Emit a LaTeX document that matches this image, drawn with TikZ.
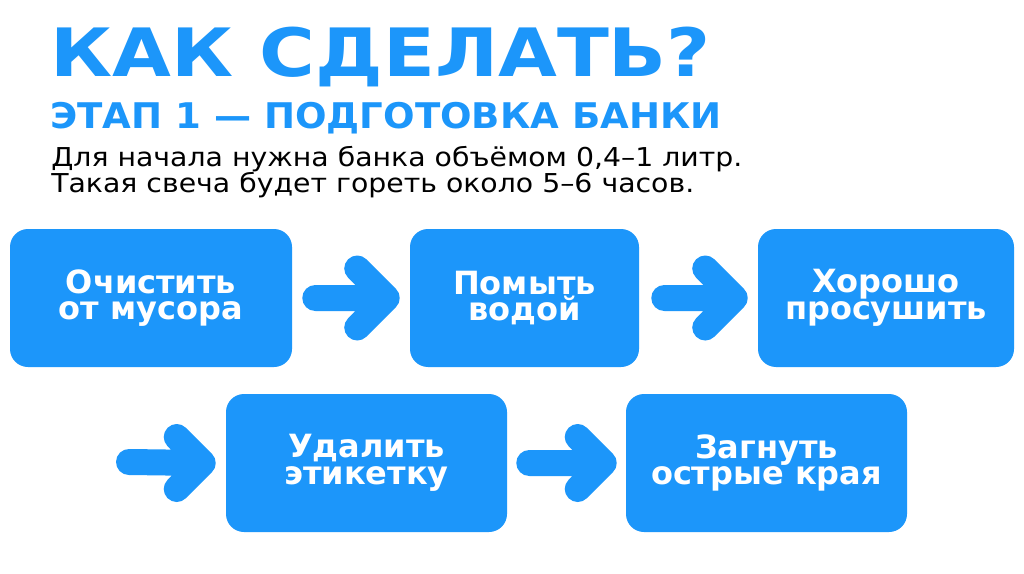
\documentclass[tikz,border=0pt]{standalone}
\usepackage{fontspec}
\usetikzlibrary{calc}
\newfontfamily\headfont[FakeStretch=1.14]{DejaVu Sans}
\newfontfamily\subfont[FakeStretch=1.05]{DejaVu Sans}
\newfontfamily\boxfont{DejaVu Sans}
\newfontfamily\bodyfont[FakeStretch=1.09]{DejaVu Sans}
\definecolor{skyblue}{RGB}{28,150,250}
\newcommand\fatarrow[3]{%
  \draw[arr] ($(#1)+(13,0)$) -- ($(#2)+(-13,0)$)
    ($(#2)+({-13-#3},{-#3})$) -- ($(#2)+(-13,0)$) -- ($(#2)+({-13-#3},{#3})$);
}
\begin{document}
\begin{tikzpicture}[x=0.75pt,y=-0.75pt,
  box/.style={fill=skyblue, rounded corners=13.5pt, minimum height=103.5pt,
    text=white, align=center, inner sep=0pt,
    font=\boxfont\bfseries\fontsize{24pt}{20pt}\selectfont},
  arr/.style={draw=skyblue, line width=19.5pt, line cap=round, line join=round},
  heading/.style={anchor=base west, inner sep=0pt, text=skyblue}]
\useasboundingbox[fill=white] (0,0) rectangle (1024,574);

\node[heading, font=\headfont\bfseries\fontsize{50pt}{50pt}\selectfont] (title) at (50,77) {КАК СДЕЛАТЬ?};
\node[heading, font=\subfont\bfseries\fontsize{26.5pt}{26.5pt}\selectfont] (sub) at (50,129) {ЭТАП 1 — ПОДГОТОВКА БАНКИ};
\node[anchor=base west, inner sep=0pt, font=\bodyfont\fontsize{19.5pt}{18.75pt}\selectfont, align=left] (body) at (51,193) {Для начала нужна банка объёмом 0,4–1 литр.\\Такая свеча будет гореть около 5–6 часов.};

\node[box, minimum width=211.5pt] (b1) at (151,298) {Очистить\\от мусора};
\node[box, minimum width=171.75pt] (b2) at (524.5,298) {Помыть\\водой};
\node[box, minimum width=192pt] (b3) at (886,298) {Хорошо\\просушить};
\node[box, minimum width=210.75pt] (b4) at (366.5,463) {Удалить\\этикетку};
\node[box, minimum width=210.75pt] (b5) at (766.5,463) {Загнуть\\острые края};

\coordinate (s3) at (116,462);
\fatarrow{[xshift=7.5pt]b1.east}{[xshift=-7.5pt]b2.west}{29.5}
\fatarrow{[xshift=9pt]b2.east}{[xshift=-7.5pt]b3.west}{29.5}
\fatarrow{s3}{[xshift=-7.5pt]b4.west}{26}
\fatarrow{[xshift=6.75pt]b4.east}{[xshift=-6.75pt]b5.west}{26}
\end{tikzpicture}
\end{document}
